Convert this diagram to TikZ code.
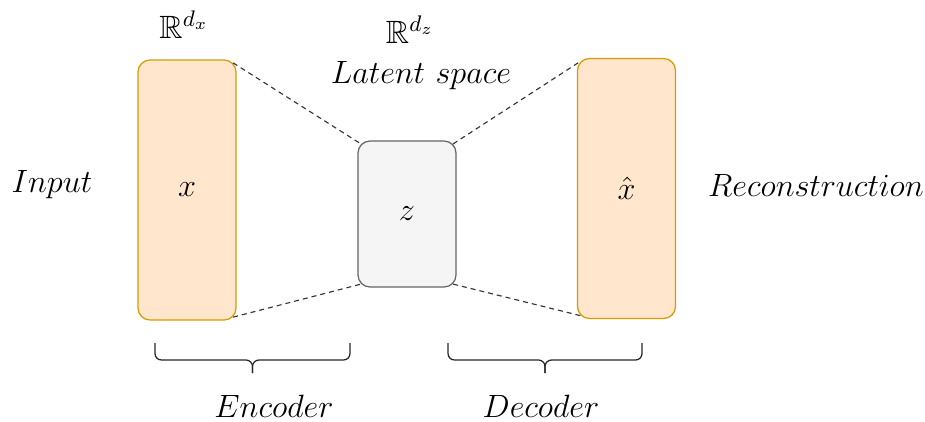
\RequirePackage{fix-cm}
\documentclass[tikz,border=0pt]{standalone}
\usepackage{amssymb}
\usepackage{tikz}
\usetikzlibrary{positioning}
\definecolor{datafill}{HTML}{FFE6CC}
\definecolor{datadraw}{HTML}{D79B00}
\definecolor{latfill}{HTML}{F5F5F5}
\definecolor{latdraw}{HTML}{666666}

\begin{document}
\begin{tikzpicture}[
  x=0.4pt, y=-0.4pt, font=\fontsize{12.9}{15}\selectfont,
  box/.style={draw, rounded corners=4.8pt, minimum width=39.2pt, inner sep=0pt, line width=0.5pt},
  data/.style={box, fill=datafill, draw=datadraw, minimum height=104pt},
  latent/.style={box, fill=latfill, draw=latdraw, minimum height=58.4pt},
  link/.style={dashed, dash pattern=on 2pt off 1.6pt, line width=0.45pt, draw=black!80},
  curly/.style={rounded corners=2.6pt, line width=0.5pt, draw=black!85},
  lbl/.style={inner sep=1pt},
]
\useasboundingbox (0,0) rectangle (925,421);
% the three blocks
\node[data] (xin) at (187,190) {$x$};
\node[latent] (z) at (407,214) {$z$};
\node[data] (xout) at (626.5,188.5) {$\hat{x}$};
% labels
\node[lbl] (rdx) at (184,25) {$\mathbb{R}^{d_x}$};
\node[lbl] (rdz) at (410,30) {$\mathbb{R}^{d_z}$};
\node[lbl] (lat) at (421,76) {$Latent\ space$};
\node[lbl] (inp) at (52,185) {$Input$};
\node[lbl] (rec) at (816,185) {$Reconstruction$};
% funnel lines
\draw[link] ([shift={(-1.4pt,-1.4pt)}]xin.north east) -- ([shift={(1.4pt,-1.4pt)}]z.north west);
\draw[link] ([shift={(-1.4pt,1.4pt)}]xin.south east) -- ([shift={(1.4pt,1.4pt)}]z.south west);
\draw[link] ([shift={(-1.4pt,-1.4pt)}]z.north east) -- ([shift={(1.4pt,-1.4pt)}]xout.north west);
\draw[link] ([shift={(-1.4pt,1.4pt)}]z.south east) -- ([shift={(1.4pt,1.4pt)}]xout.south west);
% braces
\coordinate (encL) at (155,343);
\coordinate (encR) at (350,343);
\coordinate (encM) at (252.5,360);
\coordinate (encT) at (252.5,373);
\coordinate (decL) at (448,343);
\coordinate (decR) at (642,343);
\coordinate (decM) at (545,360);
\coordinate (decT) at (545,373);
\draw[curly] (encL) |- (encM) -- (encT);
\draw[curly] (encR) |- (encM) -- (encT);
\draw[curly] (decL) |- (decM) -- (decT);
\draw[curly] (decR) |- (decM) -- (decT);
\node[lbl] (enc) at (274,406) {$Encoder$};
\node[lbl] (dec) at (541,406) {$Decoder$};
\end{tikzpicture}
\end{document}
